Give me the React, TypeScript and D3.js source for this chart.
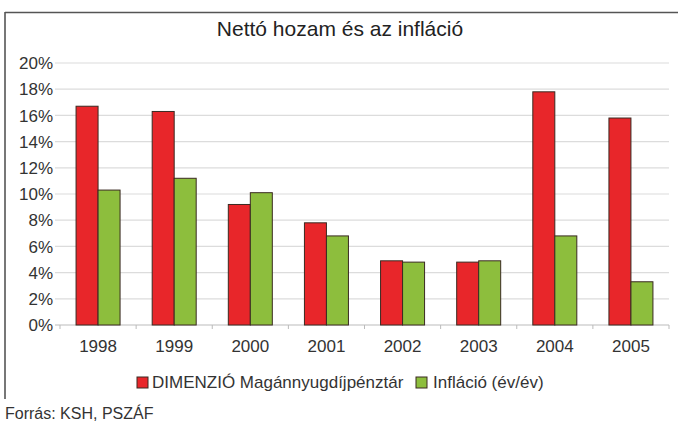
import React from "react";
import * as d3 from "d3";

// chart values
const years = ["1998", "1999", "2000", "2001", "2002", "2003", "2004", "2005"];
const seriesNames = ["DIMENZIÓ Magánnyugdíjpénztár", "Infláció (év/év)"];
const dimenzio = [16.7, 16.3, 9.2, 7.8, 4.9, 4.8, 17.8, 15.8];
const inflacio = [10.3, 11.2, 10.1, 6.8, 4.8, 4.9, 6.8, 3.3];
const yTicks = [0, 2, 4, 6, 8, 10, 12, 14, 16, 18, 20];
const colors = ["#e8262a", "#8dbe3d"];

const W = 678;
const H = 421;
const margin = { top: 63, right: 9, bottom: 96, left: 60 };
const font = "'Liberation Sans', Arial, sans-serif";

const App = () => {
  const x0 = d3
    .scaleBand()
    .domain(years)
    .range([margin.left, W - margin.right])
    .padding(0);
  const x1 = d3
    .scaleBand()
    .domain(seriesNames)
    .range([0, x0.bandwidth()])
    .paddingInner(0)
    .paddingOuter(0.73);
  const y = d3
    .scaleLinear()
    .domain([0, 20])
    .range([H - margin.bottom, margin.top]);

  const values = [dimenzio, inflacio];
  const base = y(0);
  const bandEdges = years.map((yr) => x0(yr)).concat([W - margin.right]);

  return (
    <svg
      width={W}
      height={H}
      style={{ position: "absolute", left: 0, top: 0, background: "#fff" }}
      fontFamily={font}
    >
      {/* frame */}
      <line x1={5} x2={W} y1={12.5} y2={12.5} stroke="#555" strokeWidth={1.6} />
      <line x1={5} x2={5} y1={12} y2={399} stroke="#555" strokeWidth={1.6} />

      <text x={340} y={36} textAnchor="middle" fontSize={21} fill="#222">
        Nettó hozam és az infláció
      </text>

      {/* grid + y axis */}
      {yTicks.map((t) => (
        <g key={t}>
          <line
            x1={margin.left - 5}
            x2={W - margin.right}
            y1={y(t)}
            y2={y(t)}
            stroke={t === 0 ? "#bbb" : "#dcdcdc"}
            strokeWidth={1.2}
          />
          <text
            x={53}
            y={y(t)}
            dy="0.36em"
            textAnchor="end"
            fontSize={17}
            fill="#333"
          >
            {t}%
          </text>
        </g>
      ))}

      {bandEdges.map((bx, i) => (
        <line key={i} x1={bx} x2={bx} y1={base} y2={base + 4} stroke="#bbb" />
      ))}

      {/* bars */}
      {years.map((yr, i) => (
        <g key={yr} transform={`translate(${x0(yr)},0)`}>
          {seriesNames.map((s, j) => (
            <rect
              key={s}
              x={x1(s)}
              y={y(values[j][i])}
              width={x1.bandwidth()}
              height={base - y(values[j][i])}
              fill={colors[j]}
              stroke="#3a2a22"
              strokeWidth={1}
            />
          ))}
          <text
            x={x0.bandwidth() / 2}
            y={352}
            textAnchor="middle"
            fontSize={17}
            fill="#333"
          >
            {yr}
          </text>
        </g>
      ))}

      {/* legend */}
      <rect x={137} y={377} width={11} height={11} fill={colors[0]} stroke="#3a2a22" />
      <text x={152} y={388} fontSize={17} fill="#333">
        {seriesNames[0]}
      </text>
      <rect x={416} y={377} width={11} height={11} fill={colors[1]} stroke="#3a2a22" />
      <text x={433} y={388} fontSize={17} fill="#333">
        {seriesNames[1]}
      </text>

      <text x={5} y={419} fontSize={16} fill="#333">
        Forrás: KSH, PSZÁF
      </text>
    </svg>
  );
};

export default App;
